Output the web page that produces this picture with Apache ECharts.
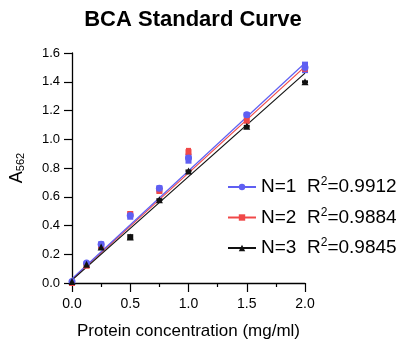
<!DOCTYPE html>
<html><head><meta charset="utf-8">
<script src="https://cdn.jsdelivr.net/npm/echarts@6/dist/echarts.min.js"></script>
<style>html,body{margin:0;padding:0;background:#fff}#c{width:419px;height:349px}</style>
</head><body><div id="c"></div>
<script>
var conc = [0, 0.125, 0.25, 0.5, 0.75, 1.0, 1.5, 2.0];
var n1Mean = [0.01, 0.14, 0.27, 0.47, 0.66, 0.87, 1.17, 1.50];
var n1Low  = [0.00, 0.13, 0.24, 0.44, 0.63, 0.83, 1.15, 1.46];
var n1High = [0.02, 0.15, 0.29, 0.49, 0.68, 0.90, 1.19, 1.54];
var n2Mean = [0.00, 0.12, 0.26, 0.48, 0.64, 0.91, 1.13, 1.49];
var n2Low  = [0.00, 0.11, 0.25, 0.46, 0.63, 0.88, 1.11, 1.47];
var n2High = [0.01, 0.13, 0.27, 0.50, 0.66, 0.94, 1.15, 1.50];
var n3Mean = [0.01, 0.13, 0.25, 0.32, 0.58, 0.78, 1.09, 1.40];
var n3Low  = [0.00, 0.12, 0.24, 0.30, 0.57, 0.77, 1.08, 1.39];
var n3High = [0.02, 0.14, 0.26, 0.34, 0.59, 0.79, 1.10, 1.41];
var fitIntercept = [0.03, 0.025, 0.02];
var fitSlope = [0.75, 0.74, 0.72];
var seriesNames = ['N=1', 'N=2', 'N=3'];
var r2 = ['0.9912', '0.9884', '0.9845'];

var colors = ['#5f5ff2', '#f04848', '#111111'];
var symbols = ['circle', 'rect', 'triangle'];
var sizes = [7, 6, 7];
var means = [n1Mean, n2Mean, n3Mean];
var lows = [n1Low, n2Low, n3Low];
var highs = [n1High, n2High, n3High];
var FONT = 'Liberation Sans';

var chart = echarts.init(document.getElementById('c'));
var series = [];
[1, 0, 2].forEach(function (i) {
  series.push({
    name: seriesNames[i], type: 'line', symbol: symbols[i], symbolSize: sizes[i] - 1,
    showSymbol: false, z: 2,
    lineStyle: { color: colors[i], width: 1.2 }, itemStyle: { color: colors[i] },
    data: [[0, fitIntercept[i]], [2, fitIntercept[i] + 2 * fitSlope[i]]]
  });
});
[1, 0, 2].forEach(function (i) {
  series.push({
    name: seriesNames[i] + ' range', type: 'custom', z: 3,
    data: conc.map(function (x, k) { return [x, lows[i][k], highs[i][k]]; }),
    renderItem: function (params, api) {
      var a = api.coord([api.value(0), api.value(1)]);
      var b = api.coord([api.value(0), api.value(2)]);
      var w = sizes[i] - 1;
      return { type: 'rect', shape: { x: a[0] - w / 2, y: b[1], width: w, height: Math.max(a[1] - b[1], 1) },
        style: { fill: colors[i] } };
    }
  });
  series.push({
    name: seriesNames[i] + ' pts', type: 'scatter', z: 4, symbol: symbols[i], symbolSize: sizes[i],
    itemStyle: { color: colors[i], opacity: 1 },
    data: conc.map(function (x, k) { return [x, means[i][k]]; })
  });
});

chart.setOption({
  animation: false,
  title: { text: 'BCA Standard Curve', left: 188, textAlign: 'center', top: 4,
    textStyle: { fontFamily: FONT, fontSize: 22, fontWeight: 'bold', color: '#000' } },
  grid: { left: 72, right: 114, top: 53, bottom: 66 },
  xAxis: {
    type: 'value', min: 0, max: 2, interval: 0.5,
    name: 'Protein concentration (mg/ml)', nameLocation: 'middle', nameGap: 40,
    nameTextStyle: { fontFamily: FONT, fontSize: 17, color: '#000' },
    axisLine: { lineStyle: { color: '#000', width: 1.3 } },
    axisTick: { length: 9, lineStyle: { color: '#000', width: 1.2 } },
    minorTick: { show: true, splitNumber: 2, length: 4, lineStyle: { color: '#000', width: 1.2 } },
    splitLine: { show: false },
    axisLabel: { fontFamily: FONT, fontSize: 14, color: '#000', margin: 14,
      formatter: function (v) { return v.toFixed(1); } }
  },
  yAxis: {
    type: 'value', min: 0, max: 1.6, interval: 0.2,
    name: '{a|A}{s|562}', nameLocation: 'middle', nameGap: 46, nameRotate: 90,
    nameTextStyle: { rich: {
      a: { fontFamily: FONT, fontSize: 18, color: '#000' },
      s: { fontFamily: FONT, fontSize: 11, color: '#000', padding: [7, 0, 0, 0] }
    } },
    axisLine: { show: true, lineStyle: { color: '#000', width: 1.3 } },
    axisTick: { show: true, length: 8, lineStyle: { color: '#000', width: 1.2 } },
    splitLine: { show: false },
    axisLabel: { fontFamily: FONT, fontSize: 13, color: '#000', margin: 12,
      formatter: function (v) { return v.toFixed(1); } }
  },
  legend: {
    data: seriesNames, orient: 'vertical', left: 222, top: 171, itemGap: 10,
    itemWidth: 28, itemHeight: 8,
    textStyle: { fontFamily: FONT, fontSize: 19, color: '#000',
      rich: {
        n: { fontFamily: FONT, fontSize: 19, color: '#000', width: 46 },
        r: { fontFamily: FONT, fontSize: 19, color: '#000' },
        sup: { fontFamily: FONT, fontSize: 12, color: '#000', padding: [0, 0, 10, 0] }
      } },
    formatter: function (name) {
      var i = seriesNames.indexOf(name);
      return '{n|' + name + '}{r|R}{sup|2}{r|=' + r2[i] + '}';
    }
  },
  series: series
});
</script></body></html>
